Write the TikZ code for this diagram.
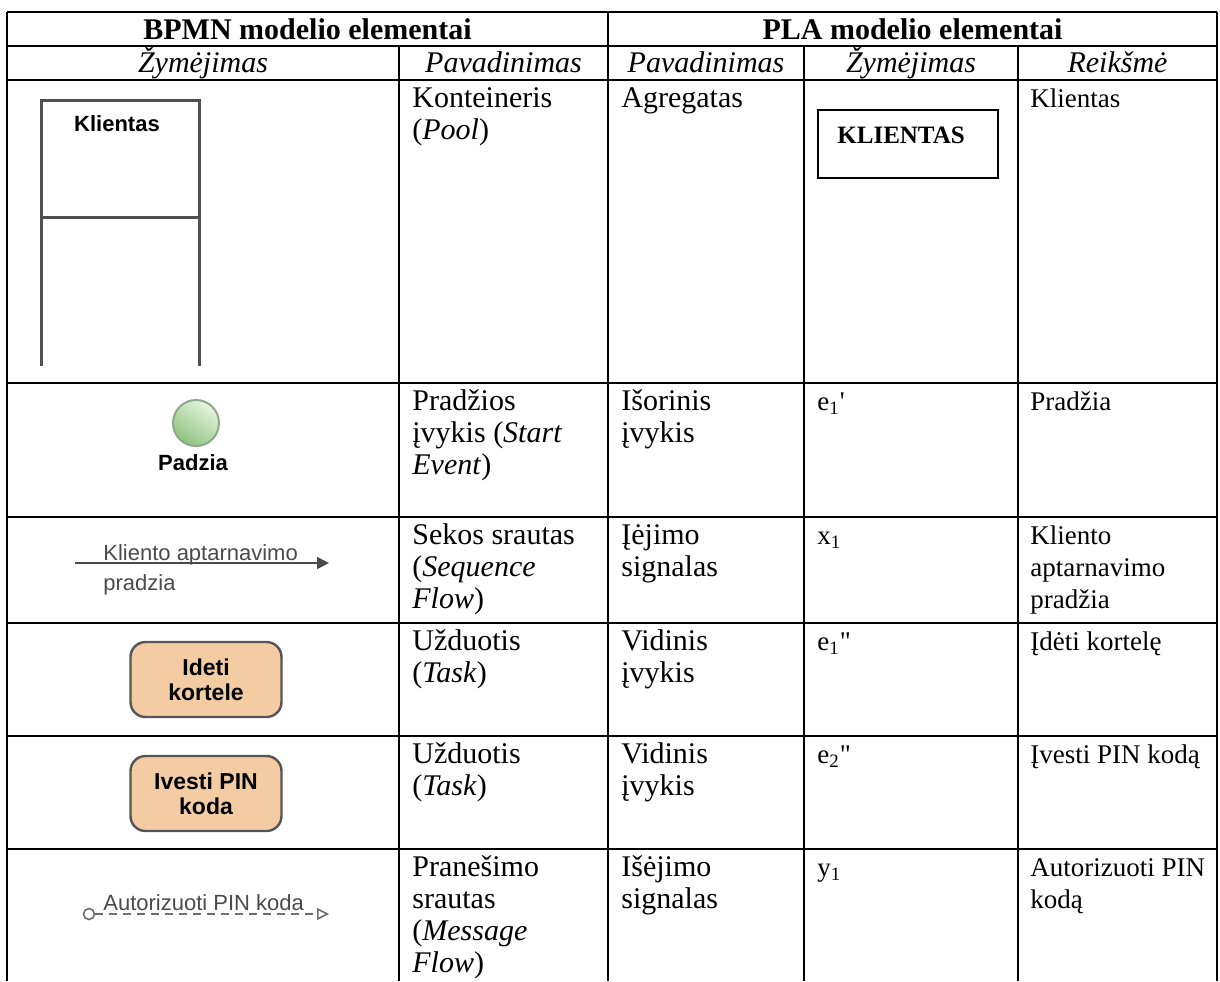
\documentclass[tikz,border=0pt]{standalone}
\usepackage{fontspec}
\setmainfont{Liberation Serif}
\newfontfamily\primefont{Liberation Serif}[Ligatures=TeXOff]
\newfontfamily\bpmnsans{Liberation Sans}
\usetikzlibrary{arrows.meta}

\definecolor{poolgray}{HTML}{505050}
\definecolor{eventborder}{HTML}{8FA889}
\definecolor{startlight}{HTML}{E6F4DF}
\definecolor{startdark}{HTML}{8EC47E}
\definecolor{taskfill}{HTML}{F4CCA4}
\definecolor{taskborder}{HTML}{555555}
\definecolor{flowgray}{HTML}{4A4A4A}
\definecolor{msggray}{HTML}{6E6E6E}

% wide columns (names) and narrow columns (symbols, meanings)
\newcommand\bodysize{\fontsize{15}{16}\selectfont}
\newcommand\valsize{\fontsize{13.5}{16}\selectfont}

\begin{document}
\begin{tikzpicture}[x=0.5pt,y=-0.5pt,
  gridline/.style={line width=1.3pt,black},
  cell/.style={anchor=base west,inner sep=0pt,font=\bodysize},
  vcell/.style={anchor=base west,inner sep=0pt,font=\valsize},
  headtext/.style={anchor=base,inner sep=0pt,font=\bodysize\bfseries},
  subhead/.style={anchor=base,inner sep=0pt,font=\bodysize\itshape},
  poolline/.style={line width=1.5pt,poolgray},
  bpmnbold/.style={inner sep=0pt,font=\bpmnsans\fontsize{11}{13}\selectfont\bfseries},
  bpmnreg/.style={inner sep=0pt,anchor=base west,text=flowgray,font=\bpmnsans\fontsize{11}{13}\selectfont},
  startevent/.style={circle,draw=eventborder,line width=1pt,minimum size=23pt,inner sep=0pt,
    shading=axis,top color=startlight,bottom color=startdark,shading angle=-35},
  task/.style={rectangle,rounded corners=7.5pt,draw=taskborder,line width=1.2pt,fill=taskfill,
    minimum width=75.5pt,minimum height=37.5pt,align=center,inner sep=0pt,
    font=\bpmnsans\fontsize{11.5}{12.5}\selectfont\bfseries},
  seqflow/.style={line width=0.9pt,flowgray,-{Triangle[length=6pt,width=6pt]}},
  msgflow/.style={line width=0.8pt,msggray,dash pattern=on 4pt off 3pt,
    -{Triangle[open,length=6pt,width=6pt,fill=white]}},
  msgdot/.style={circle,draw=msggray,line width=0.8pt,fill=white,minimum size=5.5pt,inner sep=0pt},
  klbox/.style={draw,line width=1pt,minimum width=90.25pt,minimum height=34pt,inner sep=0pt}
]
\useasboundingbox (0,0) rectangle (1220,981);

% table rules
\draw[gridline] (7,12) -- (1217,12);
\draw[gridline] (7,46) -- (1217,46);
\draw[gridline] (7,80) -- (1217,80);
\draw[gridline] (7,383) -- (1217,383);
\draw[gridline] (7,517) -- (1217,517);
\draw[gridline] (7,623) -- (1217,623);
\draw[gridline] (7,736) -- (1217,736);
\draw[gridline] (7,849) -- (1217,849);
\draw[gridline] (7,12) -- (7,981);
\draw[gridline] (608,12) -- (608,981);
\draw[gridline] (1217,12) -- (1217,981);
\draw[gridline] (399,46) -- (399,981);
\draw[gridline] (804,46) -- (804,981);
\draw[gridline] (1018,46) -- (1018,981);

% headers
\node[headtext] (hbpmn) at (307.5,39.5) {BPMN modelio elementai};
\node[headtext] (hpla) at (912.5,39.5) {PLA modelio elementai};
\node[subhead] (sh1) at (203,72) {Žymėjimas};
\node[subhead] (sh2) at (503.5,72) {Pavadinimas};
\node[subhead] (sh3) at (706,72) {Pavadinimas};
\node[subhead] (sh4) at (911,72) {Žymėjimas};
\node[subhead] (sh5) at (1117.5,72) {Reikšmė};

% row 1: pool
\draw[poolline] (41.5,366) -- (41.5,100) -- (199.5,100) -- (199.5,366);
\draw[poolline] (41.5,217) -- (199.5,217);
\node[bpmnbold] (poollabel) at (117,124) {Klientas};
\node[cell] (r1c2a) at (412,107) {Konteineris};
\node[cell] (r1c2b) at (412,139) {(\textit{Pool})};
\node[cell] (r1c3a) at (621,107) {Agregatas};
\node[klbox] (klbox) at (907.75,144) {};
\node[anchor=base west,inner sep=0pt,font=\fontsize{12.5}{14}\selectfont\bfseries] (kltext) at (837,143) {KLIENTAS};
\node[vcell] (r1c5a) at (1030,107) {Klientas};

% row 2: start event
\node[startevent] (start) at (196,423) {};
\node[bpmnbold] (startlabel) at (193,463) {Padzia};
\node[cell] (r2c2a) at (412,410) {Pradžios};
\node[cell] (r2c2b) at (412,442) {įvykis (\textit{Start}};
\node[cell] (r2c2c) at (412,474) {\textit{Event})};
\node[cell] (r2c3a) at (621,410) {Išorinis};
\node[cell] (r2c3b) at (621,442) {įvykis};
\node[vcell] (r2c4a) at (817,410) {e\textsubscript{1}{\primefont '}};
\node[vcell] (r2c5a) at (1030,410) {Pradžia};

% row 3: sequence flow
\coordinate (seqfrom) at (75,563);
\coordinate (seqto) at (329,563);
\draw[seqflow] (seqfrom) -- (seqto);
\node[bpmnreg] (seqlabel1) at (103,560) {Kliento aptarnavimo};
\node[bpmnreg] (seqlabel2) at (103,590) {pradzia};
\node[cell] (r3c2a) at (412,544) {Sekos srautas};
\node[cell] (r3c2b) at (412,576) {(\textit{Sequence}};
\node[cell] (r3c2c) at (412,608) {\textit{Flow})};
\node[cell] (r3c3a) at (621,544) {Įėjimo};
\node[cell] (r3c3b) at (621,576) {signalas};
\node[vcell] (r3c4a) at (817,544) {x\textsubscript{1}};
\node[vcell] (r3c5a) at (1030,544) {Kliento};
\node[vcell] (r3c5b) at (1030,576) {aptarnavimo};
\node[vcell] (r3c5c) at (1030,608) {pradžia};

% row 4: task
\node[task] (task1) at (206,679.5) {Ideti\\kortele};
\node[cell] (r4c2a) at (412,650) {Užduotis};
\node[cell] (r4c2b) at (412,682) {(\textit{Task})};
\node[cell] (r4c3a) at (621,650) {Vidinis};
\node[cell] (r4c3b) at (621,682) {įvykis};
\node[vcell] (r4c4a) at (817,650) {e\textsubscript{1}{\primefont "}};
\node[vcell] (r4c5a) at (1030,650) {Įdėti kortelę};

% row 5: task
\node[task] (task2) at (206,793.5) {Ivesti PIN\\koda};
\node[cell] (r5c2a) at (412,763) {Užduotis};
\node[cell] (r5c2b) at (412,795) {(\textit{Task})};
\node[cell] (r5c3a) at (621,763) {Vidinis};
\node[cell] (r5c3b) at (621,795) {įvykis};
\node[vcell] (r5c4a) at (817,763) {e\textsubscript{2}{\primefont "}};
\node[vcell] (r5c5a) at (1030,763) {Įvesti PIN kodą};

% row 6: message flow
\node[msgdot] (msgstart) at (89,914) {};
\coordinate (msgto) at (329,914);
\draw[msgflow] (msgstart) -- (msgto);
\node[bpmnreg] (msglabel) at (103,910) {Autorizuoti PIN koda};
\node[cell] (r6c2a) at (412,876) {Pranešimo};
\node[cell] (r6c2b) at (412,908) {srautas};
\node[cell] (r6c2c) at (412,940) {(\textit{Message}};
\node[cell] (r6c2d) at (412,972) {\textit{Flow})};
\node[cell] (r6c3a) at (621,876) {Išėjimo};
\node[cell] (r6c3b) at (621,908) {signalas};
\node[vcell] (r6c4a) at (817,876) {y\textsubscript{1}};
\node[vcell] (r6c5a) at (1030,876) {Autorizuoti PIN};
\node[vcell] (r6c5b) at (1030,908) {kodą};
\end{tikzpicture}
\end{document}
